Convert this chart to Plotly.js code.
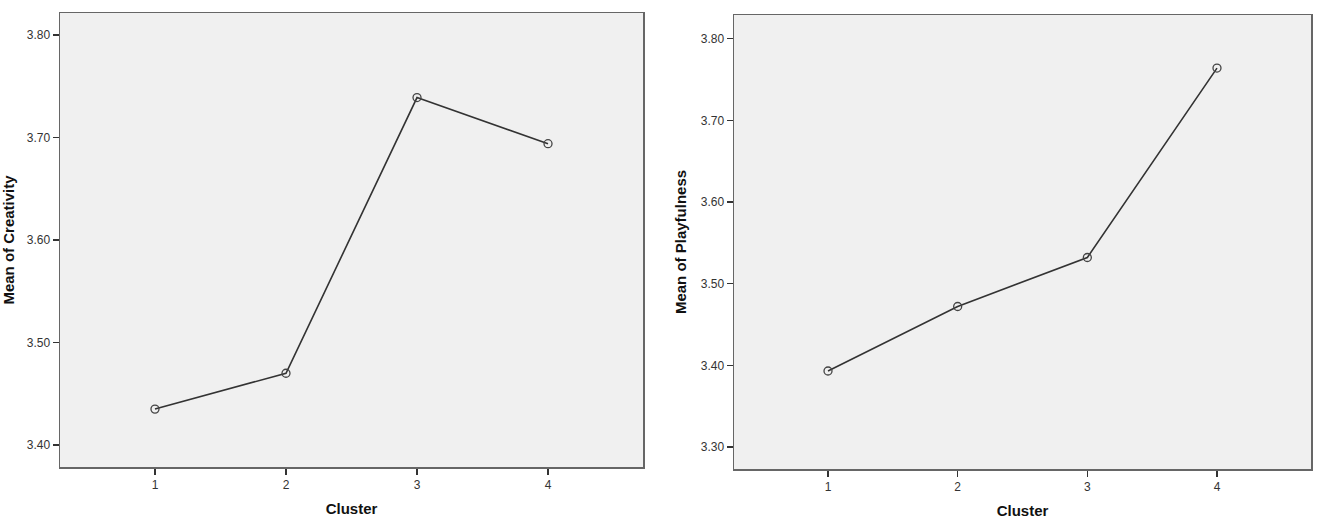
<!DOCTYPE html>
<html>
<head>
<meta charset="utf-8">
<script src="https://cdn.plot.ly/plotly-3.0.1.min.js"></script>
<style>
  html, body { margin: 0; padding: 0; background: #fff; }
  #chart { width: 1325px; height: 530px; }
</style>
</head>
<body>
<div id="chart"></div>
<script>
// cluster means
const clusters = [1, 2, 3, 4];
const creativity = [3.435, 3.470, 3.739, 3.694];
const playfulness = [3.393, 3.472, 3.532, 3.764];
const creativityTicks = [3.40, 3.50, 3.60, 3.70, 3.80];
const playfulnessTicks = [3.30, 3.40, 3.50, 3.60, 3.70, 3.80];

const W = 1325, H = 530;
const FONT = 'Liberation Sans, Arial, sans-serif';

function series(y, xa, ya) {
    return {
        x: clusters,
        y: y,
        xaxis: xa,
        yaxis: ya,
        type: 'scatter',
        mode: 'lines+markers',
        line: { color: '#333', width: 1.6 },
        marker: { symbol: 'circle-open', size: 8, color: '#444', line: { width: 1.3 } },
        showlegend: false,
        hoverinfo: 'x+y'
    };
}

const xBase = {
    range: [0.275, 4.725],
    tickvals: clusters,
    ticks: 'outside',
    ticklen: 6,
    tickwidth: 1.5,
    tickcolor: '#333',
    showline: true,
    mirror: true,
    linecolor: '#666',
    linewidth: 1.5,
    showgrid: false,
    zeroline: false,
    tickfont: { family: FONT, size: 12, color: '#333' },
    title: { text: 'Cluster', standoff: 12, font: { family: FONT, size: 15, color: '#111', weight: 'bold' } }
};

function yAxis(ticks, range, label, anchor) {
    return {
        range: range,
        tickvals: ticks,
        tickformat: '.2f',
        ticks: 'outside',
        ticklen: 6,
        tickwidth: 1.5,
        tickcolor: '#333',
        showline: true,
        mirror: true,
        linecolor: '#666',
        linewidth: 1.5,
        showgrid: false,
        zeroline: false,
        anchor: anchor,
        tickfont: { family: FONT, size: 12, color: '#333' },
        title: { text: label, standoff: 10, font: { family: FONT, size: 15, color: '#111', weight: 'bold' } }
    };
}

const layout = {
    width: W,
    height: H,
    margin: { l: 0, r: 0, t: 0, b: 0 },
    paper_bgcolor: '#fff',
    plot_bgcolor: '#f0f0f0',
    xaxis: Object.assign({}, xBase, { domain: [60 / W, 643 / W], anchor: 'y' }),
    yaxis: Object.assign(yAxis(creativityTicks, [3.3785, 3.8215], 'Mean of Creativity', 'x'),
        { domain: [1 - 467 / H, 1 - 13 / H] }),
    xaxis2: Object.assign({}, xBase, { domain: [734 / W, 1311 / W], anchor: 'y2' }),
    yaxis2: Object.assign(yAxis(playfulnessTicks, [3.273, 3.829], 'Mean of Playfulness', 'x2'),
        { domain: [1 - 469 / H, 1 - 15 / H] })
};

Plotly.newPlot('chart', [
    series(creativity, 'x', 'y'),
    series(playfulness, 'x2', 'y2')
], layout, { displayModeBar: false, staticPlot: true });
</script>
</body>
</html>
